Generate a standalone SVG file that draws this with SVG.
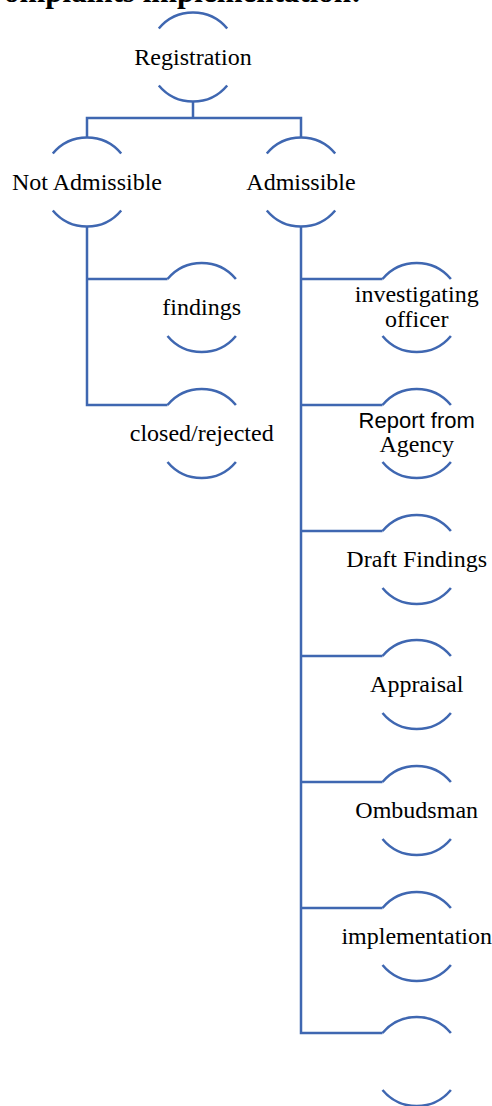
<svg xmlns="http://www.w3.org/2000/svg" width="492" height="1106" viewBox="0 0 492 1106">
<style>
  .arc { fill: none; stroke: #3F67B1; stroke-width: 2.5; }
  .conn { fill: none; stroke: #3F67B1; stroke-width: 2.5; stroke-linejoin: miter; }
  .t { font-family: "Liberation Serif", "Times New Roman", serif; font-size: 24px; fill: #000; text-anchor: middle; }
  .s { font-family: "Liberation Sans", Arial, sans-serif; font-size: 22px; fill: #000; text-anchor: middle; }
  .title { font-family: "Liberation Serif", "Times New Roman", serif; font-size: 31px; font-weight: bold; fill: #000; }
</style>
<defs>
  <path id="caps" d="M-34.2,-28.5 A44.5,44.5 0 0 1 34.2,-28.5 M-34.2,28.5 A44.5,44.5 0 0 0 34.2,28.5"/>
</defs>
<text class="title" x="4" y="2">omplaints implementation:</text>
<g id="connectors">
  <path class="conn" d="M193,101.5 V118 M87,137.5 V118 H301 V137.5"/>
  <path class="conn" d="M87,226.5 V405 H167.5 M87,279 H167.5"/>
  <path class="conn" d="M301,226.5 V1033 H382.5 M301,279 H382.5 M301,405 H382.5 M301,531 H382.5 M301,656 H382.5 M301,782 H382.5 M301,908 H382.5"/>
</g>
<g id="registration" transform="translate(193,57)">
  <use href="#caps" class="arc"/>
  <text class="t" x="0" y="7.5">Registration</text>
</g>
<g id="not-admissible" transform="translate(87,182)">
  <use href="#caps" class="arc"/>
  <text class="t" x="0" y="8">Not Admissible</text>
</g>
<g id="admissible" transform="translate(301,182)">
  <use href="#caps" class="arc"/>
  <text class="t" x="0" y="8">Admissible</text>
</g>
<g id="findings" transform="translate(201.7,307.5)">
  <use href="#caps" class="arc"/>
  <text class="t" x="0" y="7.5">findings</text>
</g>
<g id="closed-rejected" transform="translate(201.7,433.5)">
  <use href="#caps" class="arc"/>
  <text class="t" x="0" y="7">closed/rejected</text>
</g>
<g id="investigating-officer" transform="translate(416.7,307.5)">
  <use href="#caps" class="arc"/>
  <text class="t" x="0" y="-5.5">investigating</text>
  <text class="t" x="0" y="19.5">officer</text>
</g>
<g id="report-from-agency" transform="translate(416.7,433.5)">
  <use href="#caps" class="arc"/>
  <text class="s" x="0" y="-5.5">Report from</text>
  <text class="t" x="0" y="18.5">Agency</text>
</g>
<g id="draft-findings" transform="translate(416.7,559.5)">
  <use href="#caps" class="arc"/>
  <text class="t" x="0" y="7.5">Draft Findings</text>
</g>
<g id="appraisal" transform="translate(416.7,684.5)">
  <use href="#caps" class="arc"/>
  <text class="t" x="0" y="7.5">Appraisal</text>
</g>
<g id="ombudsman" transform="translate(416.7,810.5)">
  <use href="#caps" class="arc"/>
  <text class="t" x="0" y="7">Ombudsman</text>
</g>
<g id="implementation" transform="translate(416.7,936.5)">
  <use href="#caps" class="arc"/>
  <text class="t" x="0" y="7">implementation</text>
</g>
<g id="last-step" transform="translate(416.7,1061.5)">
  <use href="#caps" class="arc"/>
</g>
</svg>
